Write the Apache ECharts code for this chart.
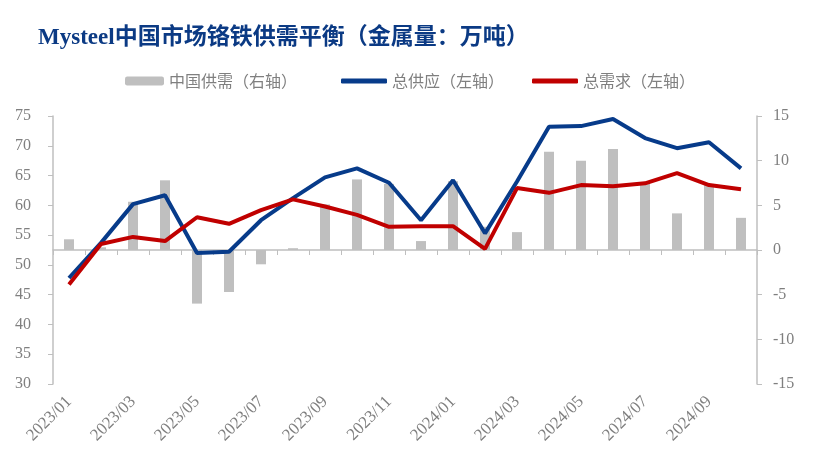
<!DOCTYPE html>
<html>
<head>
<meta charset="utf-8">
<script src="https://cdn.jsdelivr.net/npm/echarts@6/dist/echarts.min.js"></script>
<style>
  html, body { margin: 0; padding: 0; background: #fff; }
  #chart { width: 815px; height: 466px; }
</style>
</head>
<body>
<div id="chart"></div>
<script>
const months = [
  '2023/01', '2023/02', '2023/03', '2023/04', '2023/05', '2023/06',
  '2023/07', '2023/08', '2023/09', '2023/10', '2023/11', '2023/12',
  '2024/01', '2024/02', '2024/03', '2024/04', '2024/05', '2024/06',
  '2024/07', '2024/08', '2024/09', '2024/10'
];
// 中国供需（右轴）
const balance = [1.2, 0.3, 5.4, 7.8, -6.0, -4.7, -1.6, 0.2, 5.1, 7.9, 7.4, 1.0,
  7.7, 2.6, 2.0, 11.0, 10.0, 11.3, 7.6, 4.1, 7.3, 3.6];
// 总供应（左轴）
const supply = [47.8, 53.7, 60.2, 61.7, 52.0, 52.2, 57.5, 61.2, 64.7, 66.2, 63.8, 57.5,
  64.2, 55.3, 64.0, 73.2, 73.3, 74.5, 71.3, 69.6, 70.6, 66.2];
// 总需求（左轴）
const demand = [46.7, 53.5, 54.7, 54.0, 58.0, 56.9, 59.2, 61.0, 59.8, 58.4, 56.4, 56.5,
  56.5, 52.7, 62.9, 62.1, 63.4, 63.2, 63.7, 65.4, 63.4, 62.7];

const axisGray = '#bfbfbf';
const labelGray = '#7f7f7f';
const serif = "'Liberation Serif', 'Times New Roman', serif";

let myChart = echarts.init(document.getElementById('chart'));
let option = {
  animation: false,
  title: {
    text: 'Mysteel中国市场铬铁供需平衡（金属量：万吨）',
    left: 33,
    top: 22,
    textStyle: {
      color: '#0b3a84',
      fontSize: 23,
      fontWeight: 'bold',
      fontFamily: "'Liberation Serif', 'Noto Sans CJK SC', serif"
    }
  },
  legend: [
    {
      data: ['中国供需（右轴）'],
      left: 120,
      top: 68,
      itemWidth: 39,
      itemHeight: 9,
      itemStyle: { color: '#bfbfbf' },
      textStyle: { color: labelGray, fontSize: 16, fontFamily: "'Noto Sans CJK SC', sans-serif" }
    },
    {
      data: ['总供应（左轴）', '总需求（左轴）'],
      left: 336,
      top: 68,
      icon: 'roundRect',
      itemWidth: 46,
      itemHeight: 5,
      itemGap: 28,
      textStyle: { color: labelGray, fontSize: 16, fontFamily: "'Noto Sans CJK SC', sans-serif" }
    }
  ],
  grid: { left: 53, right: 58, top: 116, bottom: 82 },
  xAxis: {
    type: 'category',
    data: months,
    boundaryGap: true,
    axisLine: { lineStyle: { color: axisGray, width: 1.5 } },
    axisTick: { show: true, interval: 0, length: 5, lineStyle: { color: axisGray } },
    axisLabel: {
      interval: 1,
      rotate: 45,
      margin: 15,
      color: labelGray,
      fontSize: 17,
      fontFamily: serif
    }
  },
  yAxis: [
    {
      type: 'value',
      min: 30,
      max: 75,
      interval: 5,
      axisLine: { show: true, lineStyle: { color: axisGray, width: 1.5 } },
      axisTick: { show: true, length: 5, lineStyle: { color: axisGray } },
      splitLine: { show: false },
      axisLabel: { margin: 22, color: labelGray, fontSize: 16, fontFamily: serif }
    },
    {
      type: 'value',
      min: -15,
      max: 15,
      interval: 5,
      axisLine: { show: true, lineStyle: { color: axisGray, width: 1.5 } },
      axisTick: { show: true, length: 5, lineStyle: { color: axisGray } },
      splitLine: { show: false },
      axisLabel: { margin: 16, color: labelGray, fontSize: 16, fontFamily: serif }
    }
  ],
  series: [
    {
      name: '中国供需（右轴）',
      type: 'bar',
      yAxisIndex: 1,
      data: balance,
      barWidth: 10,
      itemStyle: { color: '#bfbfbf' }
    },
    {
      name: '总供应（左轴）',
      type: 'line',
      data: supply,
      showSymbol: false,
      symbol: 'none',
      lineStyle: { color: '#073b8a', width: 4 },
      itemStyle: { color: '#073b8a' }
    },
    {
      name: '总需求（左轴）',
      type: 'line',
      data: demand,
      showSymbol: false,
      symbol: 'none',
      lineStyle: { color: '#c00000', width: 4 },
      itemStyle: { color: '#c00000' }
    }
  ]
};
myChart.setOption(option);
</script>
</body>
</html>
